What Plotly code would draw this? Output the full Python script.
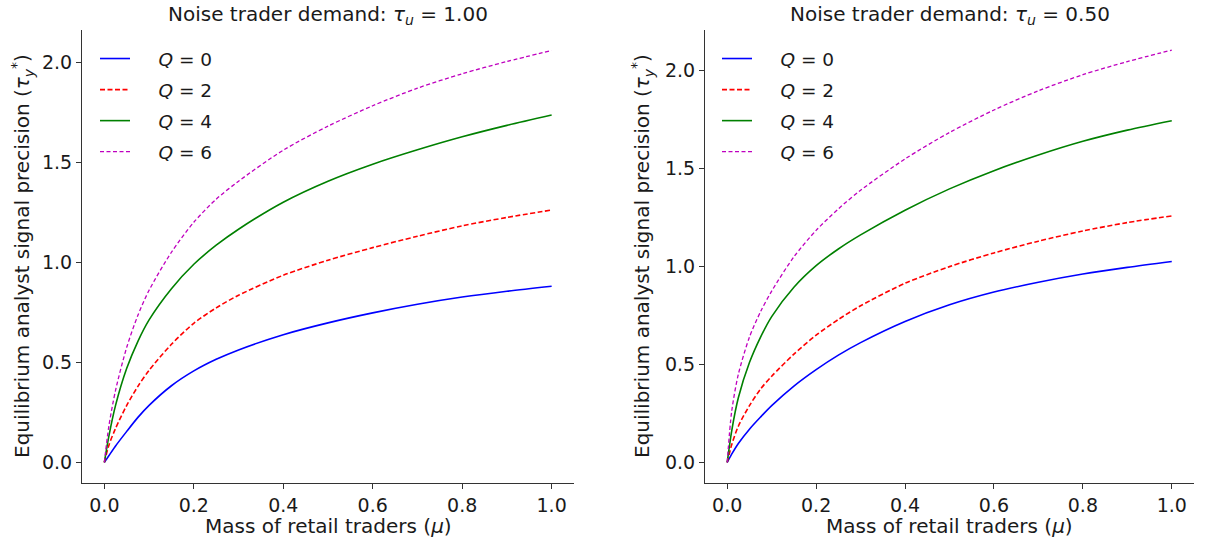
import plotly.graph_objects as go

# Mass of retail traders (mu) sample points
mu = [0, 0.01, 0.025, 0.05, 0.075, 0.1, 0.15, 0.2, 0.25, 0.3, 0.4, 0.5, 0.6, 0.7, 0.8, 0.9, 1.0]

# Equilibrium analyst signal precision, tau_u = 1.00
left_q0 = [0, 0.033, 0.082, 0.155, 0.225, 0.285, 0.383, 0.457, 0.515, 0.562, 0.638, 0.697, 0.747, 0.79, 0.826, 0.855, 0.88]
left_q2 = [0, 0.085, 0.17, 0.285, 0.38, 0.46, 0.59, 0.695, 0.772, 0.835, 0.935, 1.01, 1.073, 1.13, 1.182, 1.224, 1.261]
left_q4 = [0, 0.13, 0.285, 0.47, 0.605, 0.712, 0.868, 0.99, 1.085, 1.165, 1.30, 1.405, 1.49, 1.562, 1.627, 1.684, 1.736]
left_q6 = [0, 0.18, 0.36, 0.575, 0.735, 0.86, 1.05, 1.2, 1.315, 1.405, 1.56, 1.68, 1.782, 1.87, 1.942, 2.003, 2.058]

# Equilibrium analyst signal precision, tau_u = 0.50
right_q0 = [0, 0.042, 0.097, 0.17, 0.232, 0.29, 0.39, 0.474, 0.548, 0.612, 0.72, 0.805, 0.87, 0.92, 0.962, 0.996, 1.026]
right_q2 = [0, 0.09, 0.185, 0.29, 0.375, 0.44, 0.553, 0.65, 0.73, 0.80, 0.915, 1.0, 1.07, 1.13, 1.182, 1.225, 1.259]
right_q4 = [0, 0.16, 0.33, 0.51, 0.64, 0.745, 0.895, 1.005, 1.09, 1.162, 1.288, 1.397, 1.49, 1.57, 1.64, 1.697, 1.745]
right_q6 = [0, 0.26, 0.45, 0.64, 0.77, 0.875, 1.05, 1.185, 1.295, 1.39, 1.55, 1.685, 1.80, 1.898, 1.98, 2.047, 2.106]

q_labels = ["<i>Q</i> = 0", "<i>Q</i> = 2", "<i>Q</i> = 4", "<i>Q</i> = 6"]
panel_titles = ["Noise trader demand: <i>τ<sub>u</sub></i> = 1.00",
                "Noise trader demand: <i>τ<sub>u</sub></i> = 0.50"]
x_title = "Mass of retail traders (<i>μ</i>)"
y_title = "Equilibrium analyst signal precision (<i>τ<sub>y</sub></i><sup>*</sup>)"
x_ticks = [0.0, 0.2, 0.4, 0.6, 0.8, 1.0]
y_ticks = [0.0, 0.5, 1.0, 1.5, 2.0]

styles = [
    dict(color="#0000FF", width=1.6, dash="solid"),
    dict(color="#FF0000", width=1.6, dash="5px,2.5px"),
    dict(color="#008000", width=1.6, dash="solid"),
    dict(color="#BF00BF", width=1.3, dash="4px,2.5px"),
]

FONT = "DejaVu Sans, Verdana, sans-serif"
INK = "#1a1a1a"
W, H = 1205, 543
PAD = "\u00a0\u00a0\u00a0\u00a0"  # gap between legend swatch and its text

fig = go.Figure()

panels = [
    ("x", "y", "legend", [left_q0, left_q2, left_q4, left_q6]),
    ("x2", "y2", "legend2", [right_q0, right_q2, right_q4, right_q6]),
]
for p, (xa, ya, leg, series) in enumerate(panels):
    for i, vals in enumerate(series):
        fig.add_trace(go.Scatter(
            x=mu, y=vals, mode="lines", name=PAD + q_labels[i],
            line=dict(shape="spline", smoothing=0.8, **styles[i]),
            xaxis=xa, yaxis=ya, legend=leg, legendgroup=f"{p}-{i}",
        ))

# axes geometry in pixels
left_dom = (82, 574)
right_dom = (705, 1194)
y_dom = (1 - 483 / H, 1 - 29.5 / H)


def px(v):
    return v / W


axis_common = dict(
    showgrid=False, zeroline=False, showline=True, linecolor="#333333", linewidth=1.1,
    ticks="outside", ticklen=5, tickwidth=1.1, tickcolor="#333333",
    tickfont=dict(family=FONT, size=19, color=INK), mirror=False,
)

legend_common = dict(
    yanchor="top", xanchor="left", bgcolor="rgba(0,0,0,0)",
    font=dict(family=FONT, size=18.5, color=INK), tracegroupgap=4,
)

fig.update_layout(
    width=W, height=H,
    margin=dict(l=0, r=0, t=0, b=0),
    paper_bgcolor="white", plot_bgcolor="white",
    font=dict(family=FONT, color=INK),
    xaxis=dict(domain=[px(left_dom[0]), px(left_dom[1])], range=[-0.05, 1.05],
               tickvals=x_ticks, tickformat=".1f", anchor="y", **axis_common),
    yaxis=dict(domain=list(y_dom), range=[-0.103, 2.163], tickvals=y_ticks,
               tickformat=".1f", anchor="x", **axis_common),
    xaxis2=dict(domain=[px(right_dom[0]), px(right_dom[1])], range=[-0.05, 1.05],
                tickvals=x_ticks, tickformat=".1f", anchor="y2", **axis_common),
    yaxis2=dict(domain=list(y_dom), range=[-0.105, 2.211], tickvals=y_ticks,
                tickformat=".1f", anchor="x2", **axis_common),
    legend=dict(x=px(95), y=1 - 40 / H, **legend_common),
    legend2=dict(x=px(717), y=1 - 40 / H, **legend_common),
)

annotations = []
for dom, title in zip([left_dom, right_dom], panel_titles):
    cx = px((dom[0] + dom[1]) / 2)
    annotations.append(dict(text=title, x=cx, y=1 - 15 / H, xref="paper", yref="paper",
                            xanchor="center", yanchor="middle", showarrow=False,
                            font=dict(family=FONT, size=20, color=INK)))
    annotations.append(dict(text=x_title, x=cx, y=1 - 526 / H, xref="paper", yref="paper",
                            xanchor="center", yanchor="middle", showarrow=False,
                            font=dict(family=FONT, size=20, color=INK)))
for xpix in (22, 642):
    annotations.append(dict(text=y_title, x=px(xpix), y=1 - 256 / H,
                            xref="paper", yref="paper", xanchor="center", yanchor="middle",
                            textangle=-90, showarrow=False,
                            font=dict(family=FONT, size=20, color=INK)))
fig.update_layout(annotations=annotations)

fig.write_html("out.html")
